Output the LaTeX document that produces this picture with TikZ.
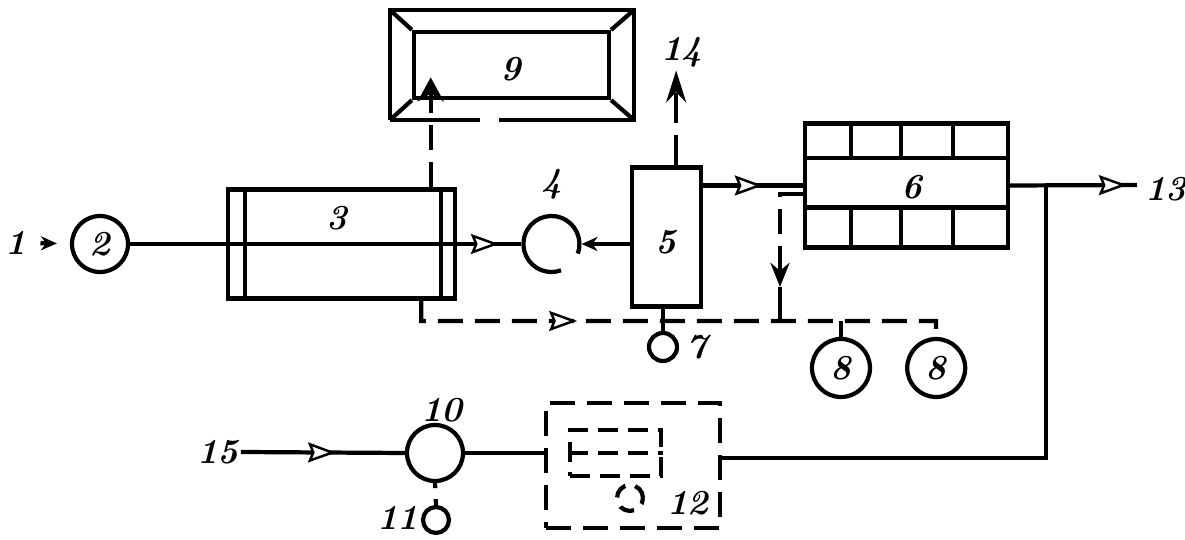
\documentclass[tikz,border=0pt]{standalone}
\usetikzlibrary{arrows.meta, positioning, calc, decorations.markings}

\begin{document}
\begin{tikzpicture}[
  line width=1.2pt,
  unit/.style={draw, inner sep=0pt},
  vessel/.style={unit, circle, font=\bfseries\itshape},
  num/.style={font=\bfseries\itshape, inner sep=0pt},
  dashline/.style={dash pattern=on 0.25cm off 0.12cm},
  midtip/.style={postaction={decorate}, decoration={markings, mark=at position #1 with {\arrow{Stealth[fill=white, length=2.8mm, width=2mm, inset=0.4mm, line width=0.7pt]}}}},
]
  \useasboundingbox (0,0) rectangle (11.85,-5.4);

  \node[vessel, minimum size=0.56cm] (pump) at (1.00,-2.44) {2};
  \node[unit, minimum width=2.27cm, minimum height=1.09cm, right=0.96cm of pump] (drum) {};
  \node[minimum size=0.56cm, inner sep=0pt, circle, right=0.64cm of drum] (blower) {};
  \node[unit, minimum width=0.69cm, minimum height=1.39cm, right=0.48cm of blower, yshift=0.07cm] (column) {};
  \node[minimum width=2.4cm, minimum height=1.06cm, inner sep=0pt] (tank) at (5.12,-0.65) {};
  \node[unit, minimum width=1.95cm, minimum height=0.66cm] (tankin) at (5.115,-0.65) {};
  \node[unit, minimum width=2.03cm, minimum height=1.24cm, right=1.0cm of column, yshift=0.515cm] (cooler) {};

  \node[vessel, minimum size=0.28cm] (drain) at (6.63,-3.47) {};
  \node[vessel, minimum size=0.58cm] (sinkA) at (8.41,-3.68) {8};
  \node[vessel, minimum size=0.58cm, right=0.33cm of sinkA] (sinkB) {8};

  \node[vessel, minimum size=0.56cm] (mixer) at (4.35,-4.53) {};
  \node[vessel, minimum size=0.26cm] (dose) at (4.36,-5.20) {};
  \node[unit, dashline, minimum width=1.74cm, minimum height=1.25cm] (absorber) at (6.33,-4.655) {};
  \node[unit, dash pattern=on 0.2cm off 0.1cm, minimum width=0.91cm, minimum height=0.46cm] (bank) at (6.155,-4.53) {};
  \node[unit, circle, dash pattern=on 0.15cm off 0.1cm, minimum size=0.26cm] (fan) at (6.30,-4.98) {};

  \node[num] (lblfeed) at (0.16,-2.43) {1};
  \node[num] (lbldrum) at (3.37,-2.18) {3};
  \node[num, above=0.12cm of blower] (lblblower) {4};
  \node[num] (lblcolumn) at (6.66,-2.42) {5};
  \node[num] (lblcooler) at (9.12,-1.87) {6};
  \node[num] (lbldrain) at (6.97,-3.47) {7};
  \node[num] (lbltank) at (5.11,-0.69) {9};
  \node[num] (lblmixer) at (4.42,-4.10) {10};
  \node[num] (lbldose) at (3.98,-5.18) {11};
  \node[num] (lblabsorber) at (6.88,-5.03) {12};
  \node[num] (lblout) at (11.66,-1.89) {13};
  \node[num] (lblvent) at (6.82,-0.52) {14};
  \node[num] (lblwater) at (2.18,-4.52) {15};

  \draw ($(drum.north west)+(0.19,0)$) -- ($(drum.south west)+(0.19,0)$);
  \draw ($(drum.north east)+(-0.16,0)$) -- ($(drum.south east)+(-0.16,0)$);
  \draw (drum.west) -- (drum.east);

  \draw (tank.south west) -- ++(0.90,0);
  \draw ($(tank.south west)+(1.09,0)$) -| (tank.north east) -| (tank.south west);
  \draw (tank.north west) -- (tankin.north west);
  \draw (tank.north east) -- (tankin.north east);
  \draw (tank.south west) -- (tankin.south west);
  \draw (tank.south east) -- (tankin.south east);

  \draw ($(cooler.north west)+(0,-0.37)$) -- ($(cooler.north east)+(0,-0.37)$);
  \draw ($(cooler.south west)+(0,0.42)$) -- ($(cooler.south east)+(0,0.42)$);
  \foreach \x in {0.48,0.98,1.50} {
    \draw ($(cooler.north west)+(\x,0)$) -- ++(0,-0.37);
    \draw ($(cooler.south west)+(\x,0)$) -- ++(0,0.42);
  }

  \draw[dash pattern=on 0.2cm off 0.1cm] (bank.west) -- (bank.east);
  \draw ($(blower)+(-20:0.28)$) arc[start angle=-20, end angle=290, radius=0.28];

  \coordinate (tankarrow) at ($(drum.north)+(0.89,1.10)$);
  \coordinate (venttip) at ($(column.north)+(0.10,0.95)$);
  \coordinate (outlet) at (11.37,-1.85);
  \coordinate (tee) at (10.46,-1.85);
  \coordinate (bend) at (10.46,-4.58);
  \coordinate (waste) at (9.36,-3.21);
  \coordinate (bleed) at (7.80,-2.87);

  \draw[-{Stealth[length=1.6mm, width=1.4mm]}, shorten <=0.12cm, shorten >=0.13cm] (lblfeed) -- (pump);
  \draw (pump) -- (drum.west);
  \draw[midtip=0.65] (drum.east) -- (blower.west);
  \draw[-{Stealth[length=1.6mm, width=1.4mm]}] (blower.east -| column.west) -- (blower.east);
  \draw[midtip=0.6] (cooler.west -| column.east) -- (cooler.west);
  \draw[midtip=0.92] (cooler.east) -- (outlet);
  \draw (tee) -- (bend) -- (bend -| absorber.east);
  \draw[midtip=0.58] (lblwater.east) -- (mixer.west);
  \draw (mixer.east) -- (mixer.east -| absorber.west);
  \draw[dash pattern=on 0.05cm off 0.11cm on 0.1cm off 0cm] (mixer.south) -- (dose.north);

  \draw[dashline, -{Stealth[length=2.4mm, width=2.6mm]}] ($(drum.north)+(0.89,0)$) -- (tankarrow);
  \draw[dash pattern=on 0.3cm off 0.12cm, -{Stealth[length=3.2mm, width=2mm]}] ($(column.north)+(0.10,0)$) -- (venttip);
  \draw[dashline, -{Stealth[fill=white, length=2.4mm, width=1.9mm]}] ($(cooler.north west)+(0,-0.73)$) -| (bleed);
  \draw (bleed) -- (bleed |- waste);
  \draw[dashline, midtip=0.32] ($(drum.south)+(0.795,0)$) |- (waste) -- (sinkB.north);
  \draw (sinkA.north) -- (sinkA.north |- waste);
  \draw (drain.north) -- (drain.north |- column.south);
\end{tikzpicture}
\end{document}
